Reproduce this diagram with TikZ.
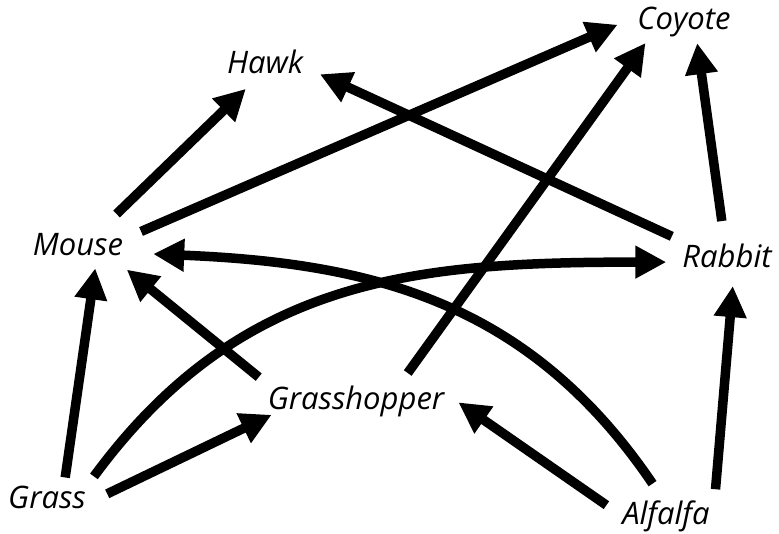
\documentclass[tikz,border=0pt]{standalone}
\usepackage{fontspec}
\setsansfont{Open Sans}
\usetikzlibrary{arrows.meta}

\tikzset{
  animal/.style={font=\sffamily\itshape\fontsize{31}{37}\selectfont, inner sep=5pt},
  eats/.style={line width=9.5pt, -{Triangle[length=31pt,width=31pt]}}
}

\begin{document}
\begin{tikzpicture}[x=1pt,y=-1pt]

        \useasboundingbox (0,0) rectangle (779,533);

        % Label the animals and plants
        \node[animal] (coyote) at (684,22) {Coyote};
        \node[animal] (hawk) at (265,62) {Hawk};
        \node[animal] (mouse) at (78,245) {Mouse};
        \node[animal] (rabbit) at (727,256) {Rabbit};
        \node[animal] (grasshopper) at (356,401) {Grasshopper};
        \node[animal] (grass) at (47,497) {Grass};
        \node[animal] (alfalfa) at (666,516) {Alfalfa};

        % Straight arrows
        \draw[eats, shorten <=21pt, shorten >=14pt] (mouse.35) -- (hawk.242);
        \draw[eats, shorten <=14pt, shorten >=16pt] (mouse.9) -- (coyote.176);
        \draw[eats, shorten <=6pt, shorten >=13pt] (rabbit.north west) -- (hawk.351);
        \draw[eats, shorten <=18pt, shorten >=1pt] (rabbit.99) -- (coyote.303);
        \draw[eats, shorten <=9pt, shorten >=1pt] (grasshopper.24) -- (coyote.208);
        \draw[eats, shorten <=3pt, shorten >=7pt] (grass.43) -- (mouse.-42);
        \draw[eats, shorten <=5pt, shorten >=13pt] (grasshopper.north west) -- (mouse.-23);
        \draw[eats, shorten <=18pt, shorten >=-10pt] (grass.-6) -- (grasshopper.191);
        \draw[eats, shorten <=13pt, shorten >=11pt] (alfalfa.176) -- (grasshopper.3);
        \draw[eats, shorten <=7pt, shorten >=13pt] (alfalfa.22) -- (rabbit.-68);

        % Curved arrows
        \draw[eats, shorten <=14pt, shorten >=25pt] (alfalfa.105)
          .. controls +(-131,-193) and +(245,10) .. (mouse.-9);
        \draw[eats, shorten <=5pt, shorten >=11pt] (grass.north east)
          .. controls +(150,-204) and +(-261,0) .. (rabbit.187);

\end{tikzpicture}
\end{document}
